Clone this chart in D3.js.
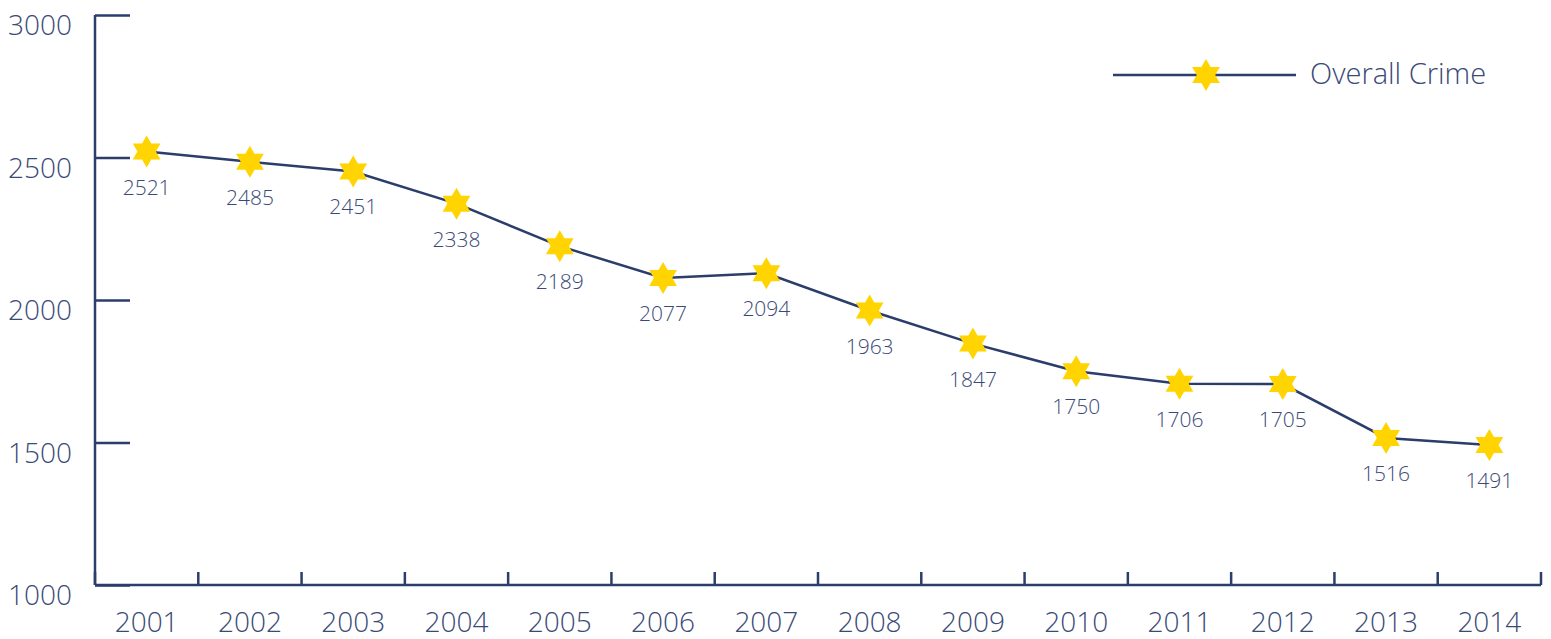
<!DOCTYPE html>
<html>
<head>
<meta charset="utf-8">
<script src="https://cdn.jsdelivr.net/npm/d3@7"></script>
<style>
  body { margin: 0; background: #fff; }
  text { font-family: "Open Sans", "Source Sans Pro", sans-serif; font-weight: 300; fill: #3a4a78; }
</style>
</head>
<body>
<div id="chart"></div>
<script>
// data
const years = ["2001", "2002", "2003", "2004", "2005", "2006", "2007",
    "2008", "2009", "2010", "2011", "2012", "2013", "2014"];
const crime = [2521, 2485, 2451, 2338, 2189, 2077, 2094,
    1963, 1847, 1750, 1706, 1705, 1516, 1491];
const yTicks = [1000, 1500, 2000, 2500, 3000];
const seriesName = "Overall Crime";

let width = 1551,
    height = 639;
let margin = {left: 95, right: 10, top: 15, bottom: 54};
let navy = "#2b3d6b",
    gold = "#ffd400";

let svg = d3.select("#chart")
    .append("svg")
    .attr("width", width)
    .attr("height", height);

let x = d3.scaleBand()
    .domain(years)
    .range([margin.left, width - margin.right]);

let y = d3.scaleLinear()
    .domain([1000, 3000])
    .range([height - margin.bottom, margin.top]);

// six pointed star
let hexStar = {
    draw: function(ctx, size) {
        let r = Math.sqrt(size) / 2;
        let ri = r / Math.sqrt(3);
        for (let i = 0; i < 12; i++) {
            let a = i * Math.PI / 6 - Math.PI / 2;
            let rr = i % 2 === 0 ? r : ri;
            if (i === 0) ctx.moveTo(rr * Math.cos(a), rr * Math.sin(a));
            else ctx.lineTo(rr * Math.cos(a), rr * Math.sin(a));
        }
        ctx.closePath();
    }
};
let star = d3.symbol().type(hexStar).size(32 * 32);

// y axis
let yAxis = svg.append("g")
    .attr("transform", "translate(" + margin.left + ",0)")
    .call(d3.axisRight(y).tickValues(yTicks).tickSize(35).tickSizeOuter(0).tickFormat(""));
yAxis.selectAll("line, path").attr("stroke", navy).attr("stroke-width", 2.5);
yAxis.select(".domain").attr("d", "M0," + y(3000) + "V" + y(1000));

svg.append("g").selectAll("text")
    .data(yTicks)
    .enter()
    .append("text")
    .attr("x", 72)
    .attr("y", function(d) { return y(d) + 20; })
    .attr("text-anchor", "end")
    .style("font-size", "28px")
    .text(function(d) { return d; });

// x axis, ticks on the band edges
let edges = years.map(function(d) { return x(d) + x.bandwidth(); });
let xAxis = svg.append("g")
    .attr("transform", "translate(0," + y(1000) + ")");
xAxis.append("line")
    .attr("x1", margin.left).attr("x2", width - margin.right)
    .attr("stroke", navy).attr("stroke-width", 2.5);
xAxis.selectAll("line.tick")
    .data([margin.left].concat(edges))
    .enter()
    .append("line")
    .attr("class", "tick")
    .attr("x1", function(d) { return d; })
    .attr("x2", function(d) { return d; })
    .attr("y1", 0).attr("y2", -13)
    .attr("stroke", navy).attr("stroke-width", 2.5);
xAxis.selectAll("text")
    .data(years)
    .enter()
    .append("text")
    .attr("x", function(d) { return x(d) + x.bandwidth() / 2; })
    .attr("y", 47)
    .attr("text-anchor", "middle")
    .style("font-size", "28px")
    .text(function(d) { return d; });

// series
let pts = years.map(function(d, i) { return {year: d, value: crime[i]}; });
let line = d3.line()
    .x(function(d) { return x(d.year) + x.bandwidth() / 2; })
    .y(function(d) { return y(d.value); });

svg.append("path")
    .datum(pts)
    .attr("d", line)
    .attr("fill", "none")
    .attr("stroke", navy)
    .attr("stroke-width", 2.5);

svg.append("g").selectAll("path")
    .data(pts)
    .enter()
    .append("path")
    .attr("d", star)
    .attr("fill", gold)
    .attr("transform", function(d) {
        return "translate(" + (x(d.year) + x.bandwidth() / 2) + "," + y(d.value) + ")";
    });

svg.append("g").selectAll("text")
    .data(pts)
    .enter()
    .append("text")
    .attr("x", function(d) { return x(d.year) + x.bandwidth() / 2; })
    .attr("y", function(d) { return y(d.value) + 43; })
    .attr("text-anchor", "middle")
    .style("font-size", "21px")
    .text(function(d) { return d.value; });

// legend
let legend = svg.append("g").attr("transform", "translate(1113,75)");
legend.append("line")
    .attr("x1", 0).attr("x2", 183)
    .attr("stroke", navy).attr("stroke-width", 2.5);
legend.append("path")
    .attr("d", star)
    .attr("fill", gold)
    .attr("transform", "translate(93,0)");
legend.append("text")
    .attr("x", 197)
    .attr("y", 9)
    .style("font-size", "29px")
    .text(seriesName);
</script>
</body>
</html>
